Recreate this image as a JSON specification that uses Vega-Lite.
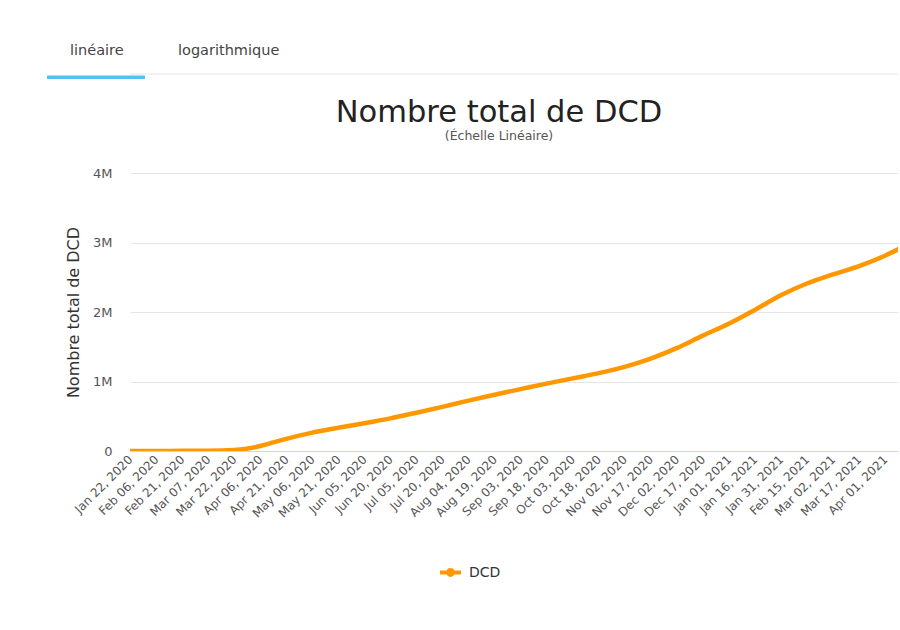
{
  "$schema": "https://vega.github.io/schema/vega-lite/v6.json",
  "background": "white",
  "padding": {"left": 47, "top": 43, "right": 2, "bottom": 5},
  "bounds": "flush",
  "spacing": 94,
  "config": {"font": "DejaVu Sans", "view": {"stroke": null}},
  "vconcat": [
    {
      "width": 768,
      "height": 28,
      "data": {"values": [{"onglet": "linéaire", "actif": true}, {"onglet": "logarithmique", "actif": false}]},
      "layer": [
        {
          "mark": {"type": "rule", "color": "#eeeeee", "strokeWidth": 1},
          "encoding": {
            "y": {"datum": 23, "type": "quantitative", "scale": {"domain": [0, 28], "reverse": true, "nice": false}, "axis": null}
          }
        },
        {
          "mark": {"type": "text", "align": "left", "baseline": "middle", "dx": 23, "fontSize": 14.5, "color": "#444"},
          "encoding": {
            "x": {"field": "onglet", "type": "nominal", "bandPosition": 0, "scale": {"domain": ["linéaire", "logarithmique"], "range": [-83, 123], "paddingInner": 0.0926, "paddingOuter": 0}, "axis": null},
            "y": {"datum": 0, "type": "quantitative", "scale": {"domain": [0, 28], "reverse": true, "nice": false}, "axis": null},
            "text": {"field": "onglet"}
          }
        },
        {
          "transform": [{"filter": "datum.actif"}],
          "mark": {"type": "bar", "color": "#4fc3f7"},
          "encoding": {
            "x": {"field": "onglet", "type": "nominal", "scale": {"domain": ["linéaire", "logarithmique"], "range": [-83, 123], "paddingInner": 0.0926, "paddingOuter": 0}, "axis": null},
            "y": {"datum": 24.5, "type": "quantitative", "scale": {"domain": [0, 28], "reverse": true, "nice": false}, "axis": null},
            "y2": {"datum": 28}
          }
        }
      ]
    },
    {
      "width": 768,
      "height": 278,
      "title": {
        "text": "Nombre total de DCD",
        "subtitle": "(Échelle Linéaire)",
        "anchor": "middle",
        "frame": "group",
        "dx": -15,
        "font": "DejaVu Sans",
        "fontSize": 30.5,
        "fontWeight": "normal",
        "color": "#222",
        "subtitleFont": "DejaVu Sans",
        "subtitleFontSize": 12.5,
        "subtitleColor": "#555",
        "subtitlePadding": 1,
        "offset": 25
      },
      "data": {"values": [
        {"date": "2020-01-22", "DCD": 17},
        {"date": "2020-02-06", "DCD": 565},
        {"date": "2020-02-21", "DCD": 2250},
        {"date": "2020-03-07", "DCD": 3550},
        {"date": "2020-03-22", "DCD": 15000},
        {"date": "2020-03-29", "DCD": 33000},
        {"date": "2020-04-06", "DCD": 72000},
        {"date": "2020-04-13", "DCD": 120000},
        {"date": "2020-04-21", "DCD": 175000},
        {"date": "2020-05-06", "DCD": 265000},
        {"date": "2020-05-21", "DCD": 335000},
        {"date": "2020-06-05", "DCD": 400000},
        {"date": "2020-06-20", "DCD": 470000},
        {"date": "2020-07-05", "DCD": 550000},
        {"date": "2020-07-20", "DCD": 635000},
        {"date": "2020-08-04", "DCD": 725000},
        {"date": "2020-08-19", "DCD": 810000},
        {"date": "2020-09-03", "DCD": 890000},
        {"date": "2020-09-18", "DCD": 970000},
        {"date": "2020-10-03", "DCD": 1045000},
        {"date": "2020-10-18", "DCD": 1120000},
        {"date": "2020-11-02", "DCD": 1210000},
        {"date": "2020-11-17", "DCD": 1330000},
        {"date": "2020-12-02", "DCD": 1480000},
        {"date": "2020-12-17", "DCD": 1660000},
        {"date": "2021-01-01", "DCD": 1830000},
        {"date": "2021-01-16", "DCD": 2030000},
        {"date": "2021-01-31", "DCD": 2240000},
        {"date": "2021-02-15", "DCD": 2410000},
        {"date": "2021-03-02", "DCD": 2540000},
        {"date": "2021-03-17", "DCD": 2660000},
        {"date": "2021-04-01", "DCD": 2810000},
        {"date": "2021-04-10", "DCD": 2920000}
      ]},
      "transform": [{"fold": ["DCD"], "as": ["serie", "valeur"]}],
      "mark": {"type": "line", "interpolate": "monotone", "strokeWidth": 4.5, "clip": true},
      "encoding": {
        "x": {
          "field": "date",
          "type": "temporal",
          "scale": {"type": "utc", "domain": [{"year": 2020, "month": 1, "date": 22, "utc": true}, {"year": 2021, "month": 4, "date": 8, "hours": 12, "utc": true}]},
          "axis": {
            "title": null,
            "values": [
              {"year": 2020, "month": 1, "date": 22, "utc": true},
              {"year": 2020, "month": 2, "date": 6, "utc": true},
              {"year": 2020, "month": 2, "date": 21, "utc": true},
              {"year": 2020, "month": 3, "date": 7, "utc": true},
              {"year": 2020, "month": 3, "date": 22, "utc": true},
              {"year": 2020, "month": 4, "date": 6, "utc": true},
              {"year": 2020, "month": 4, "date": 21, "utc": true},
              {"year": 2020, "month": 5, "date": 6, "utc": true},
              {"year": 2020, "month": 5, "date": 21, "utc": true},
              {"year": 2020, "month": 6, "date": 5, "utc": true},
              {"year": 2020, "month": 6, "date": 20, "utc": true},
              {"year": 2020, "month": 7, "date": 5, "utc": true},
              {"year": 2020, "month": 7, "date": 20, "utc": true},
              {"year": 2020, "month": 8, "date": 4, "utc": true},
              {"year": 2020, "month": 8, "date": 19, "utc": true},
              {"year": 2020, "month": 9, "date": 3, "utc": true},
              {"year": 2020, "month": 9, "date": 18, "utc": true},
              {"year": 2020, "month": 10, "date": 3, "utc": true},
              {"year": 2020, "month": 10, "date": 18, "utc": true},
              {"year": 2020, "month": 11, "date": 2, "utc": true},
              {"year": 2020, "month": 11, "date": 17, "utc": true},
              {"year": 2020, "month": 12, "date": 2, "utc": true},
              {"year": 2020, "month": 12, "date": 17, "utc": true},
              {"year": 2021, "month": 1, "date": 1, "utc": true},
              {"year": 2021, "month": 1, "date": 16, "utc": true},
              {"year": 2021, "month": 1, "date": 31, "utc": true},
              {"year": 2021, "month": 2, "date": 15, "utc": true},
              {"year": 2021, "month": 3, "date": 2, "utc": true},
              {"year": 2021, "month": 3, "date": 17, "utc": true},
              {"year": 2021, "month": 4, "date": 1, "utc": true}
            ],
            "format": "%b %d, %Y",
            "labelAngle": -45,
            "labelAlign": "right",
            "labelBaseline": "middle",
            "labelFontSize": 12,
            "labelColor": "#555",
            "labelPadding": 6,
            "labelOverlap": false,
            "labelBound": false,
            "ticks": false,
            "grid": false,
            "domainColor": "#ccd6eb",
            "domainWidth": 1
          }
        },
        "y": {
          "field": "valeur",
          "type": "quantitative",
          "scale": {"domain": [0, 4000000], "nice": false},
          "axis": {
            "title": "Nombre total de DCD",
            "titleFontSize": 16,
            "titleFontWeight": "normal",
            "titleColor": "#333",
            "titlePadding": 11,
            "values": [0, 1000000, 2000000, 3000000, 4000000],
            "labelExpr": "datum.value == 0 ? '0' : format(datum.value, '~s')",
            "labelFontSize": 13,
            "labelColor": "#555",
            "labelPadding": 18,
            "ticks": false,
            "domain": false,
            "gridColor": "#e6e6e6",
            "gridWidth": 1
          }
        },
        "color": {
          "field": "serie",
          "type": "nominal",
          "scale": {"range": ["#ff9800"]},
          "legend": {
            "title": null,
            "orient": "none",
            "legendX": 310,
            "legendY": 511,
            "padding": 0,
            "labelFontSize": 14,
            "labelColor": "#333",
            "labelOffset": 8,
            "symbolType": "M-1,-0.2H1V0.2H-1Z M0.42,0A0.42,0.42 0 1,1 -0.42,0A0.42,0.42 0 1,1 0.42,0Z",
            "symbolSize": 441,
            "symbolFillColor": "#ff9800",
            "symbolStrokeColor": "#ff9800",
            "symbolStrokeWidth": 0
          }
        }
      }
    }
  ]
}
